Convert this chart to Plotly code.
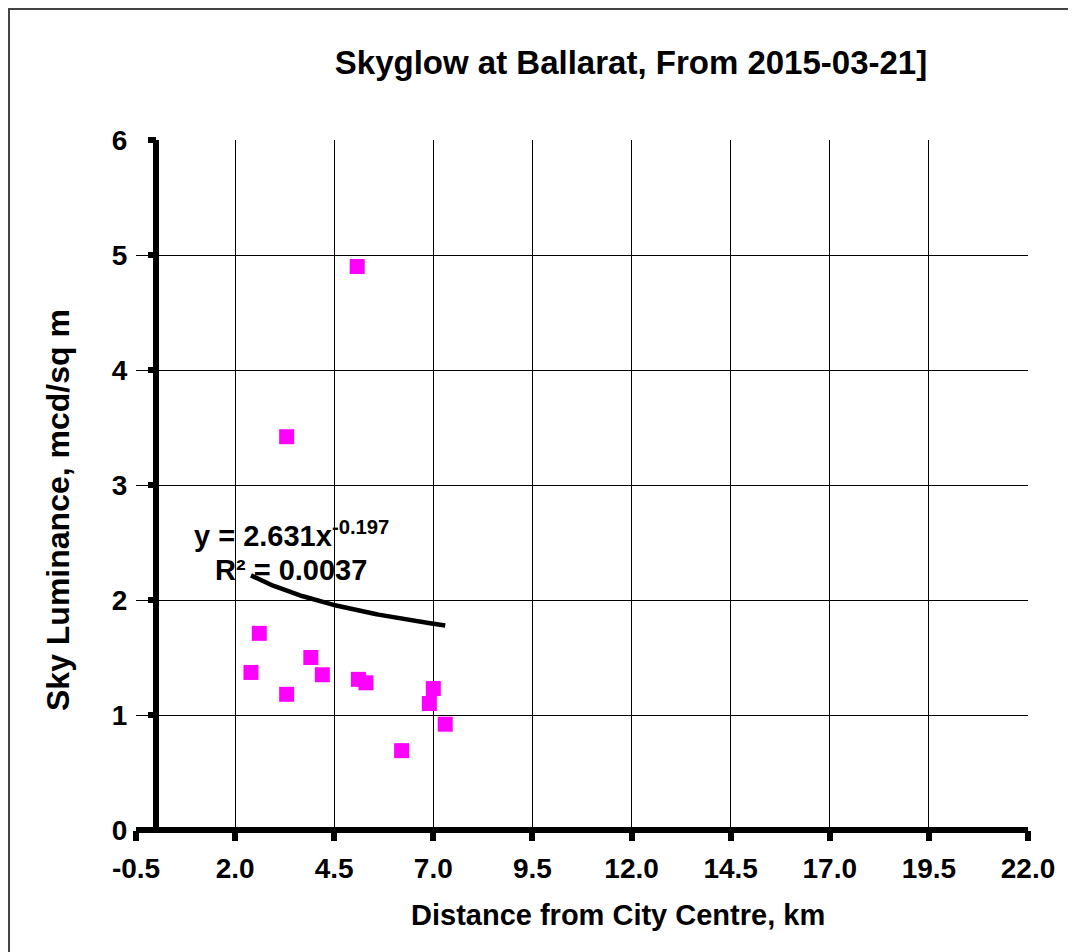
import numpy as np
import plotly.graph_objects as go

# ---- data ----
distance_km = [3.30, 2.61, 2.40, 3.91, 4.20, 3.30, 5.11, 5.30, 7.00, 6.90, 7.30, 6.20, 5.08]
luminance = [3.42, 1.71, 1.37, 1.50, 1.35, 1.18, 1.31, 1.28, 1.23, 1.10, 0.92, 0.69, 4.90]

# power trendline as printed on the chart: y = a * x^b
trend_a = 2.631
trend_b = -0.197
trend_r2 = 0.0037

x_tickvals = [-0.5, 2.0, 4.5, 7.0, 9.5, 12.0, 14.5, 17.0, 19.5, 22.0]
x_ticktext = ["-0.5", "2.0", "4.5", "7.0", "9.5", "12.0", "14.5", "17.0", "19.5", "22.0"]
y_tickvals = [0, 1, 2, 3, 4, 5, 6]
x_range = [-0.5, 22.0]
y_range = [0, 6]

title_text = "Skyglow at Ballarat, From 2015-03-21]"
x_title = "Distance from City Centre, km"
y_title = "Sky Luminance, mcd/sq m"

FONT = "Liberation Sans, Arial, sans-serif"

tx = np.linspace(min(distance_km), max(distance_km), 100)
ty = trend_a * tx ** trend_b

fig = go.Figure()
fig.add_trace(go.Scatter(
    x=distance_km, y=luminance, mode="markers",
    marker=dict(symbol="square", size=15, color="#FF00FF", line=dict(width=0)),
    showlegend=False, cliponaxis=False,
))
fig.add_trace(go.Scatter(
    x=tx, y=ty, mode="lines", line=dict(color="black", width=4.5),
    showlegend=False,
))

tickfont = dict(family=FONT, size=28, color="black", weight="bold")

# plot area in page pixels: x 136..1028, y 140..830 (page has 8px body margin)
def px(xp):
    return (xp - 136) / 892

def py(yp):
    return (830 - yp) / 690

fig.update_layout(
    width=1068, height=944,
    margin=dict(l=128, r=48, t=132, b=122),
    paper_bgcolor="white", plot_bgcolor="white",
    showlegend=False,
    title=dict(text=title_text, x=px(631), xref="paper", xanchor="center",
               y=1 - 54 / 944, yref="container", yanchor="middle",
               font=dict(family=FONT, size=33, color="black", weight="bold")),
    xaxis=dict(
        range=x_range, tickvals=x_tickvals, ticktext=x_ticktext,
        showgrid=True, gridcolor="black", gridwidth=1,
        zeroline=True, zerolinecolor="black", zerolinewidth=6,
        showline=False,
        ticks="outside", ticklen=10, tickwidth=6, tickcolor="black",
        tickfont=tickfont, ticklabelstandoff=3,
    ),
    yaxis=dict(
        range=y_range, tickvals=y_tickvals,
        anchor="free", position=(0 - x_range[0]) / (x_range[1] - x_range[0]),
        showgrid=True, gridcolor="black", gridwidth=1,
        zeroline=True, zerolinecolor="black", zerolinewidth=6,
        showline=False,
        ticks="outside", ticklen=8, tickwidth=6, tickcolor="black",
        tickfont=tickfont, ticklabelstandoff=15,
    ),
    annotations=[
        dict(text=x_title, xref="paper", yref="paper",
             x=px(618), y=py(915),
             xanchor="center", yanchor="middle", showarrow=False,
             font=dict(family=FONT, size=29, color="black", weight="bold")),
        dict(text=y_title, xref="paper", yref="paper",
             x=px(58), y=py(510), textangle=-90,
             xanchor="center", yanchor="middle", showarrow=False,
             font=dict(family=FONT, size=32, color="black", weight="bold")),
        dict(text=f"y = {trend_a}x<sup>{trend_b}</sup>",
             xref="paper", yref="paper",
             x=px(291), y=py(534),
             xanchor="center", yanchor="middle", align="center", showarrow=False,
             font=dict(family=FONT, size=29, color="black", weight="bold")),
        dict(text=f"R² = {trend_r2}",
             xref="paper", yref="paper",
             x=px(291), y=py(570),
             xanchor="center", yanchor="middle", align="center", showarrow=False,
             font=dict(family=FONT, size=29, color="black", weight="bold")),
    ],
    shapes=[
        dict(type="rect", xref="paper", yref="paper",
             x0=px(9), x1=px(1070.5),
             y0=py(965), y1=py(9),
             line=dict(color="#444444", width=2), layer="below"),
    ],
)

fig.write_html("out.html")
